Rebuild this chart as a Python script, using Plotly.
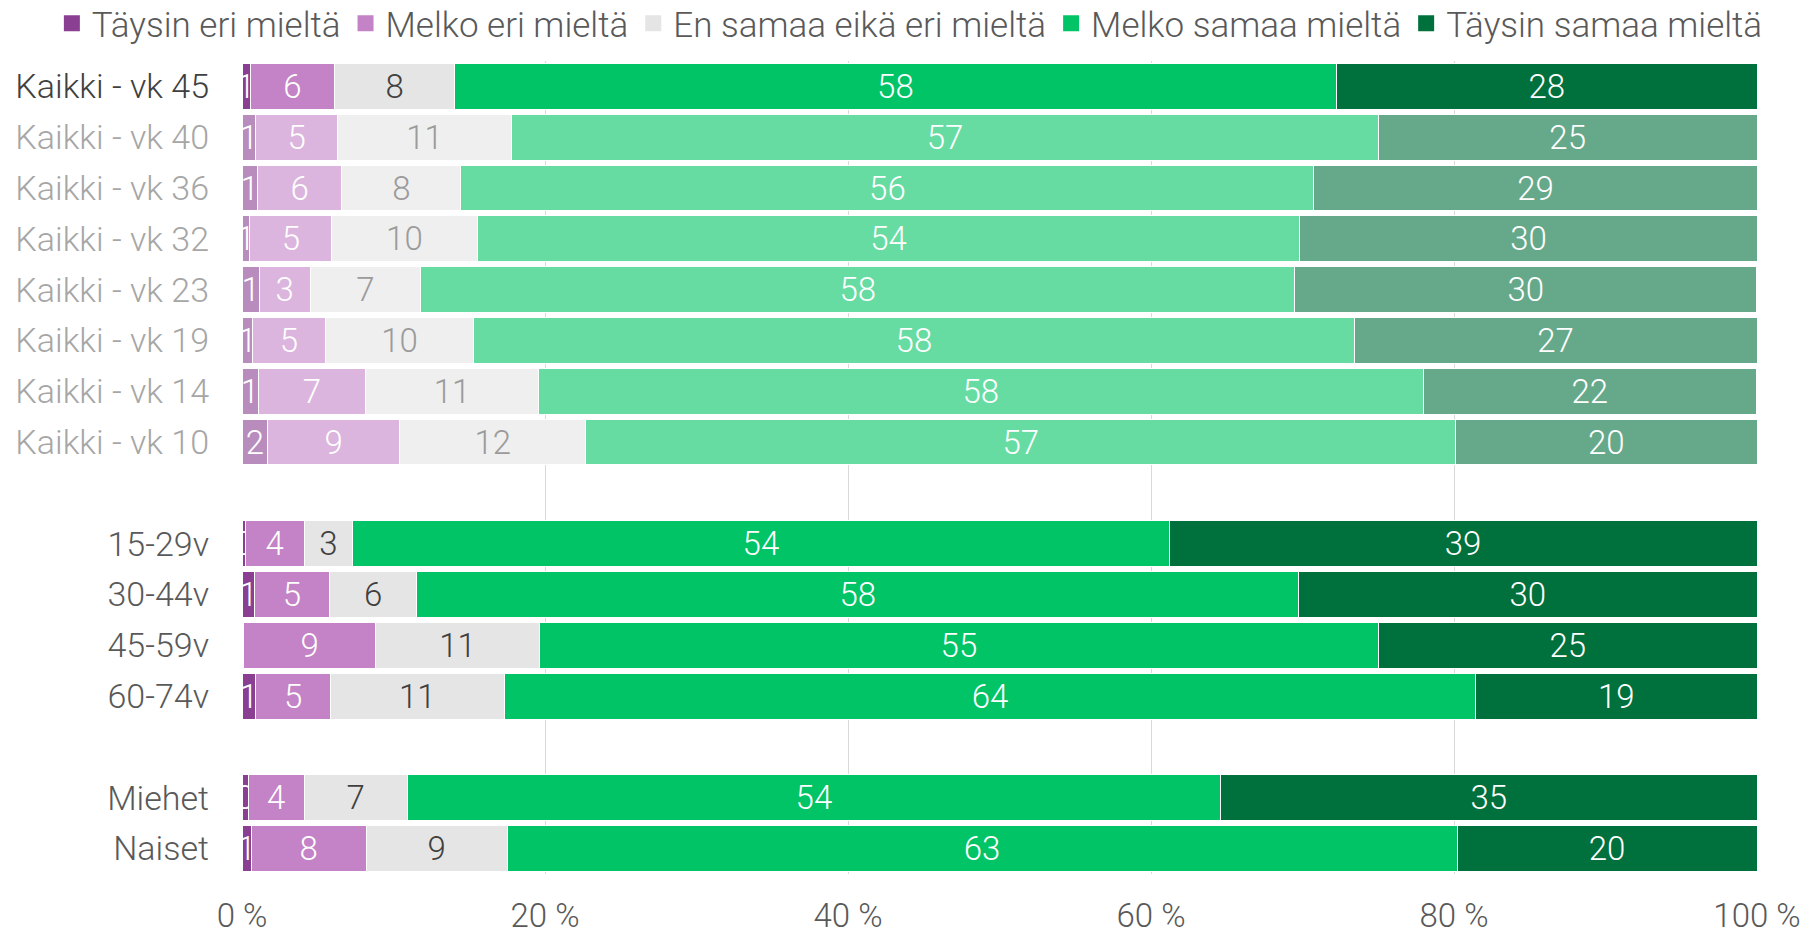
import plotly.graph_objects as go

categories = ["Kaikki - vk 45", "Kaikki - vk 40", "Kaikki - vk 36", "Kaikki - vk 32",
              "Kaikki - vk 23", "Kaikki - vk 19", "Kaikki - vk 14", "Kaikki - vk 10",
              " ", "15-29v", "30-44v", "45-59v", "60-74v", "  ", "Miehet", "Naiset"]
faded = [False, True, True, True, True, True, True, True,
         False, False, False, False, False, False, False, False]

series_names = ["Täysin eri mieltä", "Melko eri mieltä", "En samaa eikä eri mieltä",
                "Melko samaa mieltä", "Täysin samaa mieltä"]

taysin_eri = [0.53, 0.9, 1.0, 0.52, 1.13, 0.7, 1.06, 1.7, None, 0.2, 0.85, 0.12, 0.92, None, 0.4, 0.6]
melko_eri = [5.6, 5.4, 5.6, 5.4, 3.36, 4.8, 7.1, 8.7, None, 3.9, 4.9, 8.7, 4.9, None, 3.7, 7.6]
en_samaa = [7.9, 11.5, 7.85, 9.6, 7.3, 9.8, 11.4, 12.3, None, 3.2, 5.8, 10.8, 11.5, None, 6.8, 9.3]
melko_samaa = [58.2, 57.2, 56.3, 54.3, 57.7, 58.1, 58.4, 57.4, None, 53.9, 58.2, 55.4, 64.1, None, 53.7, 62.7]
taysin_samaa = [27.8, 25.0, 29.25, 30.2, 30.5, 26.6, 22.0, 19.9, None, 38.8, 30.25, 24.98, 18.58, None, 35.4, 19.8]

lbl_taysin_eri = ["1", "1", "1", "1", "1", "1", "1", "2", "", "0", "1", "0", "1", "", "0", "1"]
lbl_melko_eri = ["6", "5", "6", "5", "3", "5", "7", "9", "", "4", "5", "9", "5", "", "4", "8"]
lbl_en_samaa = ["8", "11", "8", "10", "7", "10", "11", "12", "", "3", "6", "11", "11", "", "7", "9"]
lbl_melko_samaa = ["58", "57", "56", "54", "58", "58", "58", "57", "", "54", "58", "55", "64", "", "54", "63"]
lbl_taysin_samaa = ["28", "25", "29", "30", "30", "27", "22", "20", "", "39", "30", "25", "19", "", "35", "20"]

x_ticks = [0, 20, 40, 60, 80, 100]
x_tick_labels = ["0 %", "20 %", "40 %", "60 %", "80 %", "100 %"]

values = [taysin_eri, melko_eri, en_samaa, melko_samaa, taysin_samaa]
labels = [lbl_taysin_eri, lbl_melko_eri, lbl_en_samaa, lbl_melko_samaa, lbl_taysin_samaa]

colors_full = ["#8B3F93", "#C383C6", "#E5E5E5", "#00C466", "#00703C"]
colors_faded = ["#B98CBE", "#DBB5DD", "#EFEFEF", "#66DCA3", "#66A98A"]
text_full = ["#FFFFFF", "#FFFFFF", "#404040", "#FFFFFF", "#FFFFFF"]
text_faded = ["#FFFFFF", "#FFFFFF", "#9B9B9B", "#FFFFFF", "#FFFFFF"]

FONT = "Roboto"
FS_BAR = 33
FS_Y = 34
FS_X = 33
FS_LEG = 35

fig = go.Figure()
for i, name in enumerate(series_names):
    mc = [colors_faded[i] if f else colors_full[i] for f in faded]
    tc = [text_faded[i] if f else text_full[i] for f in faded]
    fig.add_trace(go.Bar(
        y=categories, x=values[i], name=name, orientation="h",
        text=labels[i], textposition="inside", insidetextanchor="middle",
        textangle=0,
        textfont=dict(family=FONT, size=FS_BAR, color=tc, weight=300),
        marker=dict(color=mc, line=dict(color="#FFFFFF", width=1)),
        showlegend=False, hoverinfo="skip",
    ))
    fig.add_trace(go.Scatter(
        x=[None], y=[None], mode="markers", name=name,
        marker=dict(symbol="square", size=17, color=colors_full[i]),
        showlegend=True, hoverinfo="skip",
    ))

tick_text = []
for c, f in zip(categories, faded):
    if c.strip() == "":
        tick_text.append(c)
    elif c == "Kaikki - vk 45":
        tick_text.append('<span style="color:#404040">%s</span>' % c)
    elif f:
        tick_text.append('<span style="color:#A6A6A6">%s</span>' % c)
    else:
        tick_text.append('<span style="color:#595959">%s</span>' % c)

# page body has an 8px margin: figure is sized so the plot lands where the reference has it
fig.update_layout(
    barmode="stack",
    bargap=0.1,
    width=1800, height=927,
    margin=dict(l=234, r=51, t=53, b=61, autoexpand=False),
    paper_bgcolor="#FFFFFF", plot_bgcolor="#FFFFFF",
    font=dict(family=FONT, size=FS_Y, color="#595959", weight=300),
    uniformtext=dict(minsize=FS_BAR, mode="show"),
    legend=dict(orientation="h", traceorder="normal",
                x=-0.1255, xref="paper", xanchor="left",
                y=1.046, yref="paper", yanchor="middle",
                bgcolor="rgba(0,0,0,0)",
                font=dict(family=FONT, size=FS_LEG, color="#595959", weight=300),
                itemclick=False, itemdoubleclick=False,
                tracegroupgap=0, itemwidth=30),
    xaxis=dict(range=[0, 100], tickmode="array", tickvals=x_ticks, ticktext=x_tick_labels,
               showgrid=True, gridcolor="#D9D9D9", gridwidth=1,
               zeroline=False, showline=False, ticks="",
               ticklabelstandoff=19, automargin=False,
               tickfont=dict(family=FONT, size=FS_X, color="#595959", weight=300)),
    yaxis=dict(categoryorder="array", categoryarray=categories,
               tickmode="array", tickvals=categories, ticktext=tick_text,
               autorange="reversed", showgrid=False, zeroline=False,
               showline=False, ticks="", ticklabelstandoff=32, automargin=False,
               tickfont=dict(family=FONT, size=FS_Y, color="#595959", weight=300)),
)

fig.write_html("out.html")
